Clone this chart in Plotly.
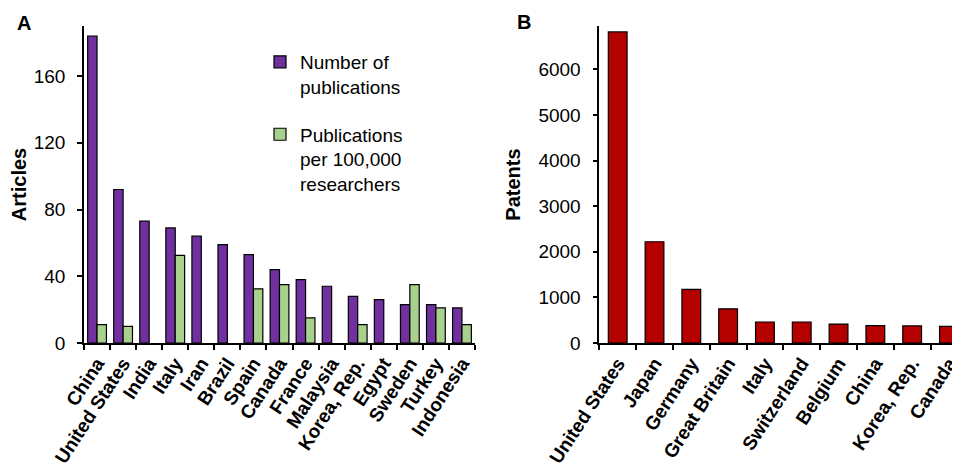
import plotly.graph_objects as go

# Panel A data
countries_a = ["China", "United States", "India", "Italy", "Iran", "Brazil", "Spain",
               "Canada", "France", "Malaysia", "Korea, Rep.", "Egypt", "Sweden", "Turkey", "Indonesia"]
num_publications = [184, 92, 73, 69, 64, 59, 53, 44, 38, 34, 28, 26, 23, 23, 21]
pubs_per_100k = [11, 10, None, 52.5, None, None, 32.5, 35, 15, None, 11, None, 35, 21, 11]

# Panel B data
countries_b = ["United States", "Japan", "Germany", "Great Britain", "Italy", "Switzerland",
               "Belgium", "China", "Korea, Rep.", "Canada"]
patents = [6820, 2220, 1175, 750, 460, 460, 415, 380, 375, 365]

FONT = "Arial, 'Liberation Sans', Helvetica, sans-serif"
PURPLE = "#7030A0"
GREEN = "#A9D18E"
RED = "#B50000"

fig = go.Figure()
fig.add_trace(go.Bar(x=countries_a, y=num_publications, name="Number of<br>publications",
                     marker=dict(color=PURPLE, line=dict(color="black", width=1.2)),
                     xaxis="x", yaxis="y", legendgroup="a"))
fig.add_trace(go.Bar(x=countries_a, y=pubs_per_100k, name="Publications<br>per 100,000<br>researchers",
                     marker=dict(color=GREEN, line=dict(color="black", width=1.2)),
                     xaxis="x", yaxis="y", legendgroup="b"))
fig.add_trace(go.Bar(x=countries_b, y=patents, name="Patents", showlegend=False,
                     width=0.51,
                     marker=dict(color=RED, line=dict(color="black", width=1.2)),
                     xaxis="x2", yaxis="y2"))

# page body margin offset (8px) compensation
OFF = 8.0
W = 960.0 - OFF
H = 474.0 - OFF


def px_x(page_x):
    return (page_x - OFF) / W


def px_y(page_y):
    return 1 - (page_y - OFF) / H


ydom = [px_y(343), px_y(26)]

axis_common = dict(showline=True, linecolor="black", linewidth=1.6, ticks="outside",
                   ticklen=5, tickwidth=1.6, tickcolor="black", showgrid=False, zeroline=False,
                   mirror=False, automargin=False)

fig.update_layout(
    template="none",
    width=int(W), height=int(H),
    margin=dict(l=0, r=0, t=0, b=0),
    plot_bgcolor="white", paper_bgcolor="white",
    font=dict(family=FONT, size=19, color="black"),
    barmode="group", bargap=0.28, bargroupgap=0,
    xaxis=dict(domain=[px_x(84), px_x(475)], anchor="y", type="category", tickson="boundaries",
               tickangle=-57, tickfont=dict(size=19, family=FONT, weight="bold"),
               range=[-0.5, 14.5], **axis_common),
    yaxis=dict(domain=ydom, anchor="x", range=[0, 190], dtick=40, ticklabelstandoff=8,
               title=dict(text="<b>Articles</b>", font=dict(size=20), standoff=12),
               **axis_common),
    xaxis2=dict(domain=[px_x(599.3), 1.0], anchor="y2", type="category", tickson="boundaries",
                tickangle=-57, tickfont=dict(size=19, family=FONT, weight="bold"),
                range=[-0.5, 9.3], **axis_common),
    yaxis2=dict(domain=ydom, anchor="x2", range=[0, 6950], dtick=1000, ticklabelstandoff=8,
                title=dict(text="<b>Patents</b>", font=dict(size=20), standoff=12),
                **axis_common),
    showlegend=True,
    legend=dict(x=px_x(260), xanchor="left", y=px_y(43), yanchor="top",
                bgcolor="rgba(0,0,0,0)", borderwidth=0, valign="top",
                tracegroupgap=20, font=dict(size=19), traceorder="grouped"),
    annotations=[
        dict(text="<b>A</b>", x=px_x(24), y=px_y(23), xref="paper", yref="paper",
             showarrow=False, font=dict(size=20), xanchor="center", yanchor="middle"),
        dict(text="<b>B</b>", x=px_x(524), y=px_y(22), xref="paper", yref="paper",
             showarrow=False, font=dict(size=20), xanchor="center", yanchor="middle"),
    ],
)

fig.write_html("out.html")
